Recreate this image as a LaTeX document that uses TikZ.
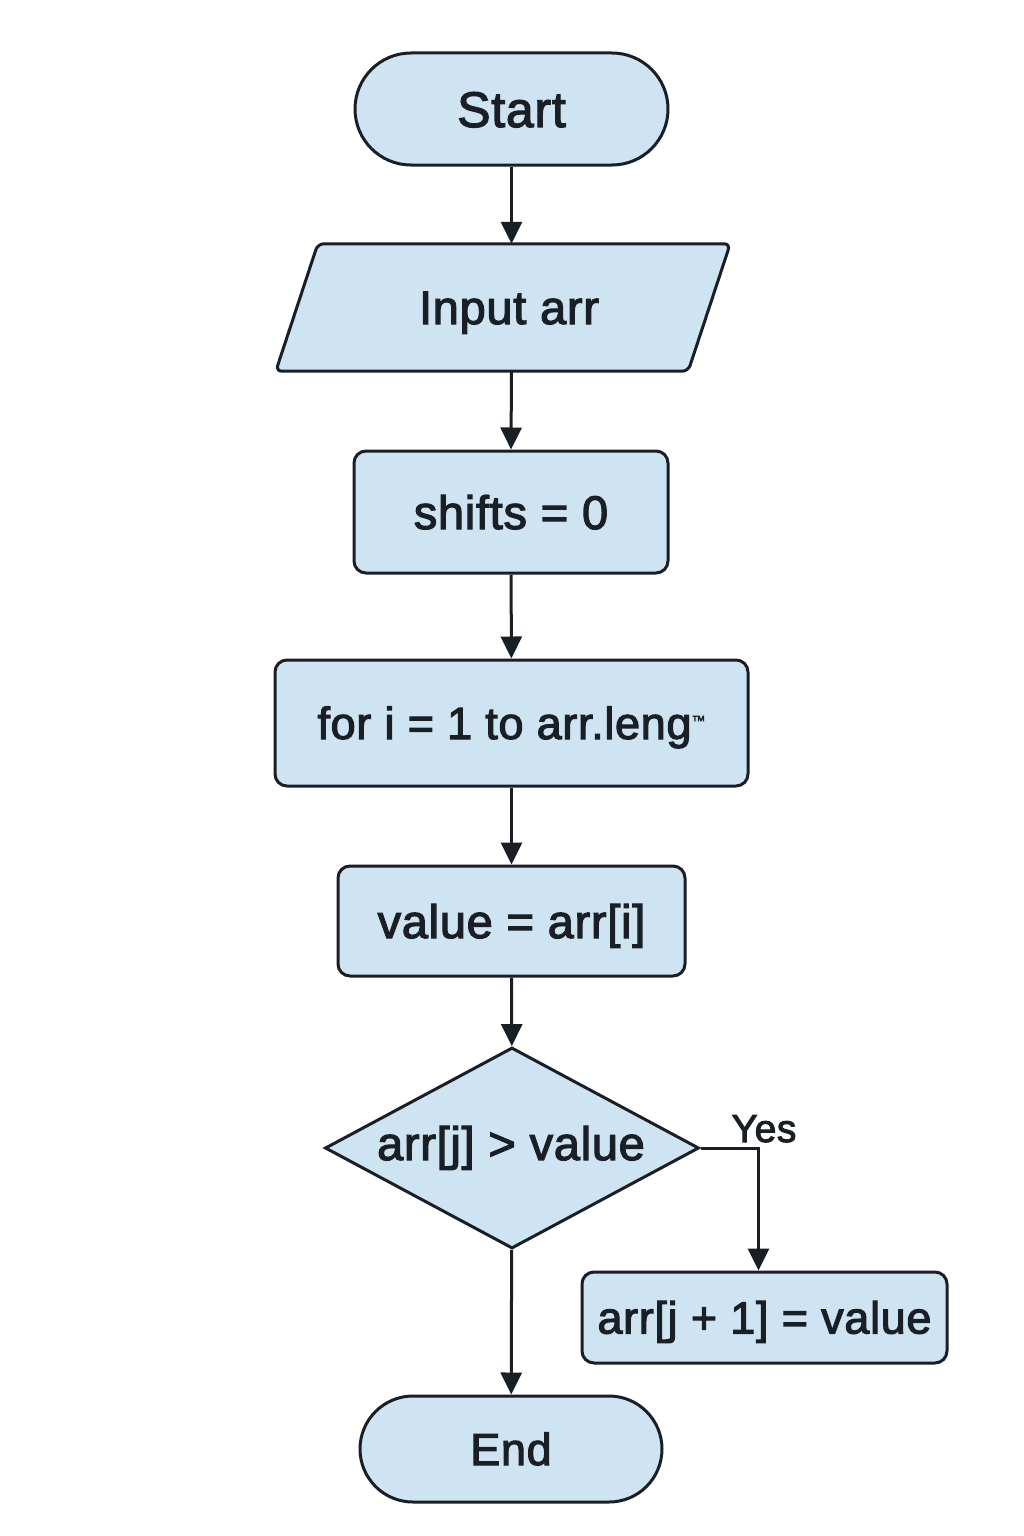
\documentclass[tikz,border=0pt]{standalone}
\usepackage{fontspec}
\setmainfont{Liberation Sans}[FakeBold=2.5,LetterSpace=1.5]
\usetikzlibrary{arrows.meta,shapes.geometric}
\definecolor{boxfill}{RGB}{207,228,243}
\definecolor{ink}{RGB}{26,31,38}
\tikzset{
  base/.style={draw=ink, line width=3pt, fill=boxfill, text=ink, inner sep=0pt, align=center},
  stadium/.style={base, rectangle},
  procbox/.style={base, rectangle, rounded corners=12pt},
  ghost/.style={rectangle, inner sep=0pt, text=ink},
  decbox/.style={base, diamond},
  conn/.style={draw=ink, line width=3pt, -{Triangle[length=22pt,width=21pt]}},
  fa/.style={font=\fontsize{50}{60}\selectfont, text height=36pt, text depth=0pt},
  fb/.style={font=\fontsize{47}{56}\selectfont, text height=34pt, text depth=0pt},
  fc/.style={font=\fontsize{45}{54}\selectfont, text height=32pt, text depth=0pt},
  fy/.style={font=\fontsize{39}{47}\selectfont, text height=28pt, text depth=0pt},
}
\begin{document}
\begin{tikzpicture}[x=1pt,y=-1pt]
\useasboundingbox[fill=white] (0,0) rectangle (1024,1536);

\node[stadium, fa, rounded corners=56pt, minimum width=313pt, minimum height=112pt] (start) at (511.5,109) {Start};

\node[ghost, minimum width=454pt, minimum height=127pt] (inp) at (503,307.5) {};
\draw[draw=ink, line width=3pt, fill=boxfill, rounded corners=6pt]
  ([xshift=42pt]inp.north west) -- (inp.north east) -- ([xshift=-42pt]inp.south east) -- (inp.south west) -- cycle;
\node[ghost, fb] (inptext) at (509,307) {Input arr};

\node[procbox, fb, minimum width=314pt, minimum height=122pt] (shifts) at (511,512) {shifts = 0};

\node[procbox, fc, minimum width=473pt, minimum height=126pt] (loop) at (511.5,723) {for i = 1 to arr.leng\raisebox{0.3em}{\fontsize{14}{16}\selectfont ™}};

\node[procbox, fb, minimum width=347pt, minimum height=110pt] (val) at (511.5,921) {value = arr[i]};

\node[decbox, minimum width=374pt, minimum height=201pt] (dec) at (512,1148) {};
\node[ghost, fb] (dectext) at (511,1143) {arr[j] > value};

\node[procbox, fc, minimum width=365pt, minimum height=91pt] (upd) at (764.5,1317.5) {arr[j + 1] = value};

\node[stadium, fc, rounded corners=53pt, minimum width=302pt, minimum height=106pt] (end) at (511,1449) {End};

\node[ghost, fy] (yes) at (764,1128) {Yes};

\draw[conn] (start.south) -- (start.south |- inp.north);
\draw[conn] (start.south |- inp.south) -- (shifts.north);
\draw[conn] (shifts) -- (loop);
\draw[conn] (loop) -- (val);
\draw[conn] (val) -- (dec);
\draw[conn] (dec.east) -| ([xshift=-6pt]upd.north);
\draw[conn] (dec) -- (end);
\end{tikzpicture}
\end{document}
